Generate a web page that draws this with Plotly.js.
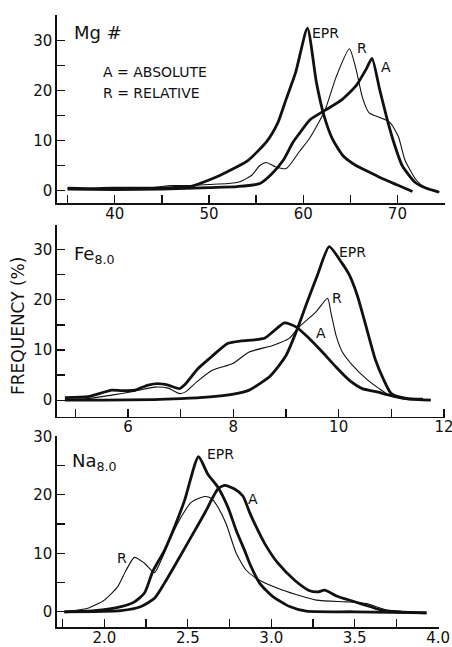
<!DOCTYPE html>
<html>
<head>
<meta charset="utf-8">
<script src="https://cdn.plot.ly/plotly-3.0.1.min.js"></script>
<style>html,body{margin:0;padding:0;background:#fff;}#chart{width:452px;height:647px;}</style>
</head>
<body>
<div id="chart"></div>
<script>
// ---- Panel 1: Mg# ----
const mgEprX = [35, 38, 41, 44, 46, 48, 50.4, 52, 54, 56.1, 57.3, 58.2, 59.2, 60.45, 61.4, 62.2, 63.1, 64.2, 65.6, 67, 68.4, 70, 71.6];
const mgEprY = [0.5, 0.4, 0.5, 0.5, 0.6, 0.8, 2.4, 3.8, 5.8, 9.7, 13.5, 18.3, 23.6, 32.4, 21.6, 15, 10.3, 7.0, 5.0, 3.7, 2.4, 1.1, -0.2];
const mgAX = [35, 40, 45, 50, 53, 55.4, 56.6, 57.9, 58.9, 59.6, 60.7, 62.3, 64.0, 65.6, 66.7, 67.3, 68.1, 68.9, 69.6, 70.5, 71.9, 73, 74.4];
const mgAY = [0.3, 0.2, 0.3, 0.6, 0.8, 1.4, 3.2, 6.1, 9.6, 11.4, 14.1, 16.0, 18.0, 20.9, 24.3, 26.4, 20.3, 14.3, 9.7, 5.0, 1.6, 0.5, -0.3];
const mgRX = [35, 40, 44, 46, 48, 50, 52, 53.2, 54.5, 55.4, 56.1, 57.1, 58.2, 59.6, 60.7, 62.3, 63.5, 64.9, 65.6, 66.3, 67.0, 68.1, 69.2, 70.1, 70.8, 72, 73, 74.5];
const mgRY = [0.3, 0.4, 0.6, 1.0, 1.0, 1.2, 1.4, 1.7, 3.0, 5.0, 5.6, 4.7, 4.4, 7.8, 10.5, 16, 22.7, 28.3, 24.3, 18.5, 15.5, 14.6, 13.6, 10.8, 6.1, 2.1, 0.5, -0.3];

// ---- Panel 2: Fe8.0 ----
const feEprX = [4.8, 5.5, 6.5, 7.0, 7.5, 8.0, 8.3, 8.7, 9.0, 9.2, 9.4, 9.6, 9.82, 10.05, 10.2, 10.35, 10.5, 10.7, 10.85, 11.0, 11.3, 11.75];
const feEprY = [0, 0, 0.1, 0.3, 0.6, 1.2, 2.0, 4.8, 8.9, 13.8, 19.5, 25, 30.6, 27.5, 25, 21, 15.5, 8, 4.2, 1.3, 0.3, 0];
const feAX = [4.8, 5.24, 5.69, 5.88, 6.13, 6.38, 6.57, 6.76, 6.98, 7.07, 7.33, 7.58, 7.89, 8.15, 8.4, 8.6, 8.75, 8.97, 9.19, 9.44, 9.69, 9.95, 10.2, 10.45, 10.71, 10.96, 11.27, 11.6];
const feAY = [0.5, 0.7, 2.0, 1.9, 2.0, 3.0, 3.3, 3.0, 2.3, 3.0, 6.3, 8.6, 11.3, 11.8, 12.0, 12.4, 13.6, 15.4, 14.6, 12.3, 9.6, 6.6, 4.0, 2.3, 1.7, 1.0, 0.3, 0.2];
const feRX = [4.8, 5.24, 5.69, 6.13, 6.51, 6.76, 6.98, 7.1, 7.3, 7.61, 7.99, 8.3, 8.75, 9.06, 9.25, 9.57, 9.79, 9.85, 9.95, 10.07, 10.26, 10.52, 10.77, 10.96, 11.27, 11.6];
const feRY = [0.0, 0.3, 1.0, 1.8, 2.6, 2.4, 1.3, 1.7, 3.6, 6.0, 7.3, 9.6, 10.9, 12.3, 14.6, 17.6, 20.3, 17.6, 12.9, 9.6, 7.0, 4.3, 2.3, 1.0, 0.3, 0.2];

// ---- Panel 3: Na8.0 ----
const naEprX = [1.76, 1.94, 2.1, 2.18, 2.24, 2.29, 2.36, 2.42, 2.48, 2.564, 2.62, 2.68, 2.74, 2.79, 2.84, 2.87, 2.93, 3.01, 3.11, 3.21, 3.5, 3.93];
const naEprY = [0, 0.2, 0.9, 1.7, 3.2, 6.9, 10.5, 14.5, 19.0, 26.5, 23.5, 21.3, 17.9, 13.9, 10.5, 8.3, 4.9, 2.6, 0.9, 0.1, 0, -0.2];
const naAX = [1.76, 2.1, 2.22, 2.3, 2.36, 2.44, 2.52, 2.6, 2.68, 2.72, 2.78, 2.83, 2.87, 2.91, 2.96, 3.04, 3.14, 3.23, 3.28, 3.32, 3.39, 3.49, 3.59, 3.67, 3.93];
const naAY = [0, 0.2, 0.9, 2.3, 4.9, 8.8, 12.8, 16.8, 21.0, 21.6, 21.0, 19.8, 17.0, 14.5, 11.7, 8.3, 5.4, 3.6, 3.4, 3.7, 2.7, 1.8, 0.9, 0.2, -0.2];
const naRX = [1.76, 1.9, 2.0, 2.08, 2.13, 2.18, 2.24, 2.3, 2.34, 2.4, 2.46, 2.52, 2.6, 2.64, 2.68, 2.73, 2.79, 2.85, 2.93, 3.07, 3.27, 3.45, 3.57, 3.69, 3.93];
const naRY = [0, 0.6, 2.0, 4.3, 7.1, 9.3, 8.3, 6.7, 8.8, 12.8, 16.2, 18.7, 19.7, 19.4, 17.9, 15.0, 10.0, 7.1, 5.4, 3.7, 2.0, 1.7, 1.4, 0.3, -0.2];

// tick labels
const mgTicks = [40, 50, 60, 70];
const feTicks = [6, 8, 10, 12];
const naTicks = ['2.0', '2.5', '3.0', '3.5', '4.0'];
const freqTicks = [0, 10, 20, 30];

const THICK = 2.8, THIN = 1.1, INK = '#111';
function tr(x, y, w, xa, ya) {
  return {x: x, y: y, xaxis: xa, yaxis: ya, type: 'scatter', mode: 'lines',
    line: {color: INK, width: w, shape: 'spline', smoothing: 0.6}, hoverinfo: 'skip', showlegend: false};
}
const data = [
  tr(mgEprX, mgEprY, THICK, 'x', 'y'), tr(mgAX, mgAY, THICK, 'x', 'y'), tr(mgRX, mgRY, THIN, 'x', 'y'),
  tr(feEprX, feEprY, THICK, 'x2', 'y2'), tr(feAX, feAY, THICK, 'x2', 'y2'), tr(feRX, feRY, THIN, 'x2', 'y2'),
  tr(naEprX, naEprY, THICK, 'x3', 'y3'), tr(naAX, naAY, THICK, 'x3', 'y3'), tr(naRX, naRY, THIN, 'x3', 'y3')
];

const FONT = 'DejaVu Sans, Liberation Sans, sans-serif';
function ax(extra) {
  return Object.assign({
    showline: true, linecolor: INK, linewidth: 1.6, mirror: false,
    ticks: 'inside', ticklen: 8, tickwidth: 1.3, tickcolor: INK,
    showgrid: false, zeroline: false, fixedrange: true,
    ticklabeloverflow: 'allow',
    tickfont: {family: FONT, size: 15, color: INK}
  }, extra);
}
function minor(d) { return {dtick: d, ticks: 'inside', ticklen: 8, tickwidth: 1.3, tickcolor: INK, showgrid: false}; }

const layout = {
  width: 452, height: 647,
  margin: {l: 57, r: 7, t: 15, b: 20},
  paper_bgcolor: '#fff', plot_bgcolor: '#fff',
  font: {family: FONT, color: INK},
  xaxis: ax({domain: [0, 1], anchor: 'y', range: [33.87, 75.05], tickmode: 'array', tickvals: mgTicks, ticktext: mgTicks.map(String), minor: minor(5), ticklabelstandoff: -4}),
  yaxis: ax({domain: [0.6923, 1], anchor: 'x', range: [-2.55, 35.05], tickmode: 'array', tickvals: freqTicks, ticktext: freqTicks.map(String), minor: minor(5)}),
  xaxis2: ax({domain: [0, 1], anchor: 'y2', range: [4.65, 12.02], tickmode: 'array', tickvals: feTicks, ticktext: feTicks.map(String), minor: minor(1), ticklabelstandoff: -4}),
  yaxis2: ax({domain: [0.3436, 0.6569], anchor: 'x2', range: [-3.3, 34.9], tickmode: 'array', tickvals: freqTicks, ticktext: freqTicks.map(String), minor: minor(5)}),
  xaxis3: ax({domain: [0, 0.9845], anchor: 'y3', range: [1.716, 4.005], tickmode: 'array', tickvals: naTicks.map(Number), ticktext: naTicks, minor: minor(0.25), ticklabelstandoff: -4}),
  yaxis3: ax({domain: [0, 0.3121], anchor: 'x3', range: [-2.6, 30.05], tickmode: 'array', tickvals: freqTicks, ticktext: freqTicks.map(String), minor: minor(5)}),
  annotations: []
};

function lab(text, x, y, xr, yr, size) {
  return {text: text, x: x, y: y, xref: xr, yref: yr, xanchor: 'left', yanchor: 'middle',
    showarrow: false, font: {family: FONT, size: size || 14, color: INK}, borderpad: 0};
}
layout.annotations.push(
  lab('Mg #', 35.6, 31.5, 'x', 'y', 18),
  lab('A = ABSOLUTE', 38.6, 23.6, 'x', 'y', 14),
  lab('R = RELATIVE', 38.6, 19.5, 'x', 'y', 14),
  lab('EPR', 60.8, 31.5, 'x', 'y', 14),
  lab('R', 65.6, 28.4, 'x', 'y', 14),
  lab('A', 68.2, 24.6, 'x', 'y', 14),
  lab('Fe<sub>8.0</sub>', 4.95, 29.0, 'x2', 'y2', 18),
  lab('EPR', 9.99, 29.6, 'x2', 'y2', 14),
  lab('R', 9.86, 20.3, 'x2', 'y2', 14),
  lab('A', 9.56, 13.4, 'x2', 'y2', 14),
  lab('Na<sub>8.0</sub>', 1.8, 25.6, 'x3', 'y3', 18),
  lab('EPR', 2.61, 27.0, 'x3', 'y3', 14),
  lab('A', 2.855, 19.35, 'x3', 'y3', 14),
  lab('R', 2.07, 9.17, 'x3', 'y3', 14),
  {text: 'FREQUENCY (%)', x: (18 - 57) / 388, y: (627 - 326) / 612, xref: 'paper', yref: 'paper',
   xanchor: 'center', yanchor: 'middle', textangle: -90, showarrow: false,
   font: {family: FONT, size: 17, color: INK}}
);

Plotly.newPlot('chart', data, layout, {staticPlot: true, displayModeBar: false});
</script>
</body>
</html>
